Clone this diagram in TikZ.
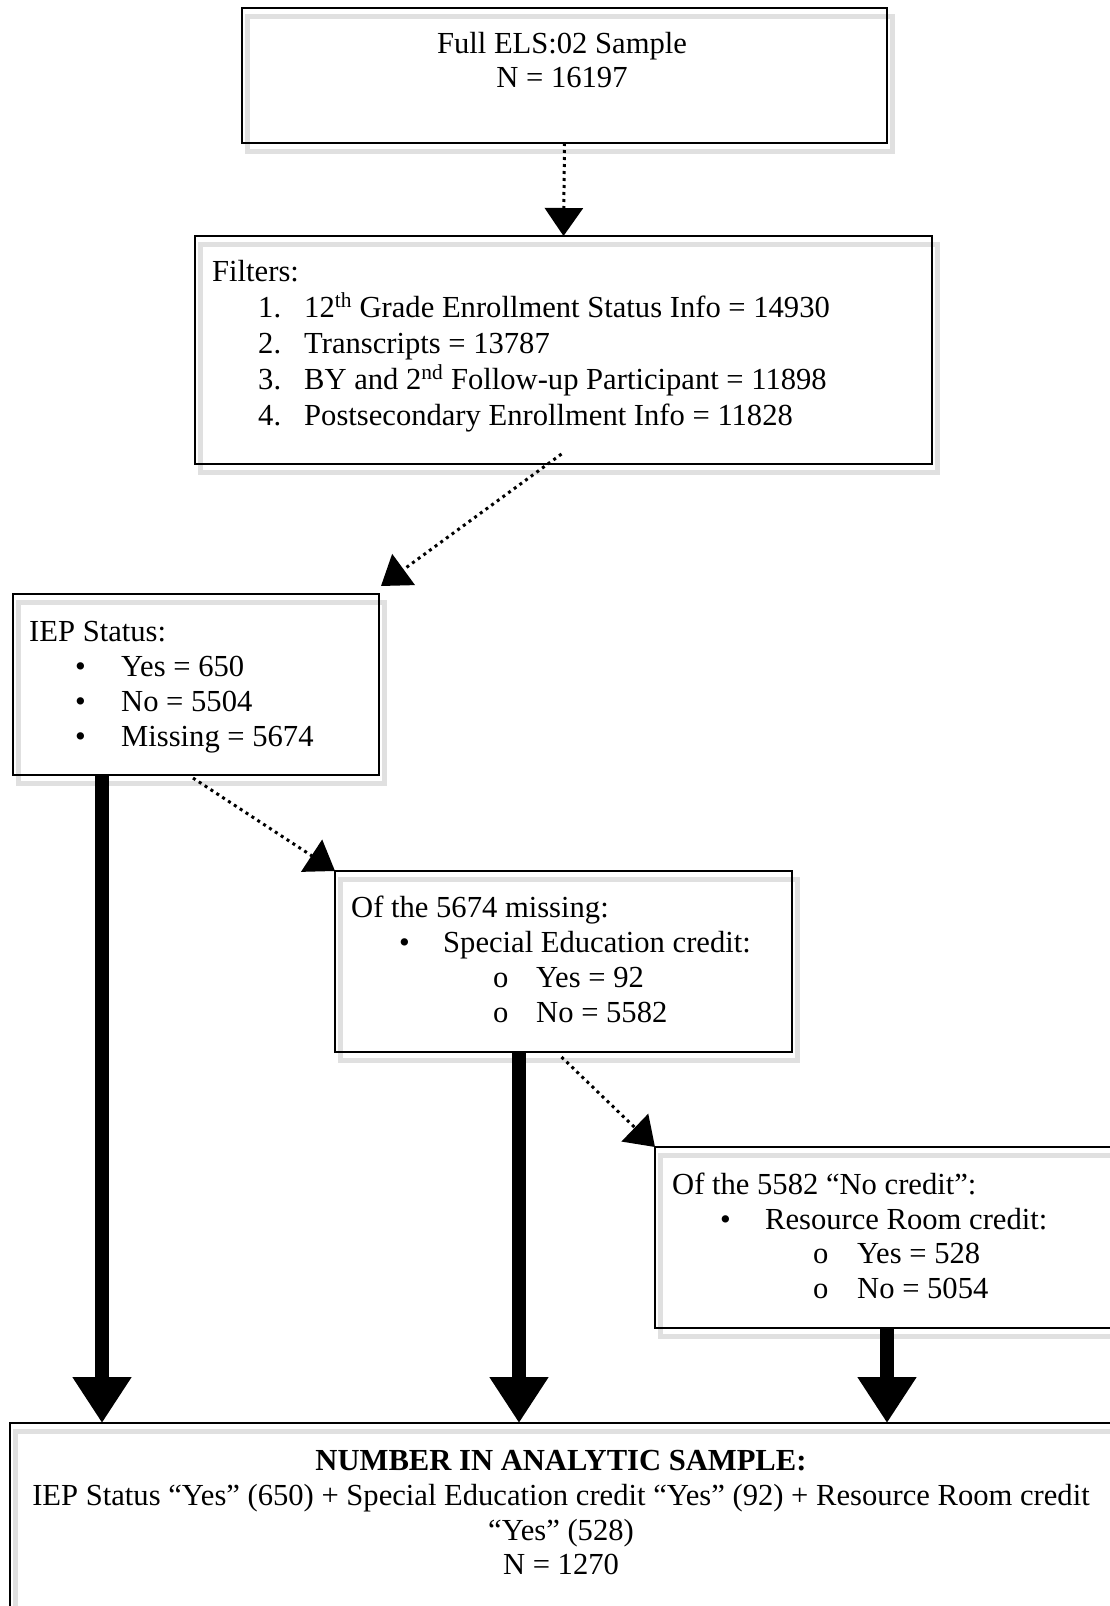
\documentclass[tikz,border=0pt]{standalone}
\usepackage{fontspec}
\setmainfont{Liberation Serif}
\usetikzlibrary{arrows.meta,backgrounds}
\begin{document}
\begin{tikzpicture}[x=1pt,y=-1pt,
  box/.style={draw, line width=2.8pt, inner sep=0pt, outer sep=0pt},
  shadowline/.style={draw=black!12, line width=5pt},
  txt/.style={anchor=base west, inner sep=0pt, font=\fontsize{30.6}{35}\selectfont},
  ctxt/.style={anchor=base, inner sep=0pt, font=\fontsize{30.6}{35}\selectfont},
  dotarrow/.style={line width=3pt, dash pattern=on 3pt off 4pt, -{Triangle[width=38pt,length=28pt]}},
  thickarrow/.style={line width=14pt, -{Triangle[width=56pt,length=46pt]}}]
\useasboundingbox (0,0) rectangle (1109,1606);

% boxes
\node[box, minimum width=645pt, minimum height=135pt] (b1) at (564.5,75.5) {};
\node[box, minimum width=737pt, minimum height=228pt] (b2) at (563.5,350) {};
\node[box, minimum width=366pt, minimum height=181pt] (b3) at (196,684.5) {};
\node[box, minimum width=457pt, minimum height=181pt] (b4) at (563.5,961.5) {};
\node[box, minimum width=470pt, minimum height=181pt] (b5) at (890,1237.5) {};
\node[box, minimum width=1102pt, minimum height=217pt] (b6) at (561,1531.5) {};

\begin{scope}[on background layer]
\foreach \b in {b1,b2,b3,b4,b5,b6}{
  \draw[shadowline] ([shift={(5pt,-8pt)}]\b.north west) rectangle ([shift={(5pt,-8pt)}]\b.south east);
}
\end{scope}

% box 1 text
\node[ctxt] (t11) at (562,53) {Full ELS:02 Sample};
\node[ctxt] (t12) at (562,87) {N = 16197};

% box 2 text
\node[txt] (t20) at (212,281) {Filters:};
\node[txt] (n21) at (258,317) {1.};
\node[txt] (t21) at (304,317) {12\textsuperscript{th} Grade Enrollment Status Info = 14930};
\node[txt] (n22) at (258,353) {2.};
\node[txt] (t22) at (304,353) {Transcripts = 13787};
\node[txt] (n23) at (258,389) {3.};
\node[txt] (t23) at (304,389) {BY and 2\textsuperscript{nd} Follow-up Participant = 11898};
\node[txt] (n24) at (258,425) {4.};
\node[txt] (t24) at (304,425) {Postsecondary Enrollment Info = 11828};

% box 3 text
\node[txt] (t30) at (29,641) {IEP Status:};
\node[txt] (u31) at (75,676) {•};
\node[txt] (t31) at (121,676) {Yes = 650};
\node[txt] (u32) at (75,711) {•};
\node[txt] (t32) at (121,711) {No = 5504};
\node[txt] (u33) at (75,746) {•};
\node[txt] (t33) at (121,746) {Missing = 5674};

% box 4 text
\node[txt] (t40) at (351,917) {Of the 5674 missing:};
\node[txt] (u41) at (399,952) {•};
\node[txt] (t41) at (443,952) {Special Education credit:};
\node[txt] (u42) at (493,987) {o};
\node[txt] (t42) at (536,987) {Yes = 92};
\node[txt] (u43) at (493,1022) {o};
\node[txt] (t43) at (536,1022) {No = 5582};

% box 5 text
\node[txt] (t50) at (672,1194) {Of the 5582 “No credit”:};
\node[txt] (u51) at (720,1229) {•};
\node[txt] (t51) at (765,1229) {Resource Room credit:};
\node[txt] (u52) at (813,1263) {o};
\node[txt] (t52) at (857,1263) {Yes = 528};
\node[txt] (u53) at (813,1298) {o};
\node[txt] (t53) at (857,1298) {No = 5054};

% box 6 text
\node[ctxt, font=\fontsize{30.6}{35}\selectfont\bfseries] (t60) at (561,1470) {NUMBER IN ANALYTIC SAMPLE:};
\node[ctxt] (t61) at (561,1505) {IEP Status “Yes” (650) + Special Education credit “Yes” (92) + Resource Room credit};
\node[ctxt] (t62) at (561,1540) {“Yes” (528)};
\node[ctxt] (t63) at (561,1574) {N = 1270};

% connectors
\coordinate (colA) at (102,0);
\coordinate (colB) at (519,0);
\coordinate (colC) at (887,0);

\draw[dotarrow] (b1.south) -- (b2.north);
\draw[dotarrow] ([shift={(-2pt,10pt)}]b2.south) -- ([shift={(2pt,8pt)}]b3.north east);
\draw[dotarrow] ([shift={(-3pt,-3pt)}]b3.south) -- (b4.north west);
\draw[dotarrow] ([shift={(-2pt,-5pt)}]b4.south) -- (b5.north west);

\draw[thickarrow] (b3.south -| colA) -- (b6.north -| colA);
\draw[thickarrow] (b4.south -| colB) -- (b6.north -| colB);
\draw[thickarrow] (b5.south -| colC) -- (b6.north -| colC);
\end{tikzpicture}
\end{document}
